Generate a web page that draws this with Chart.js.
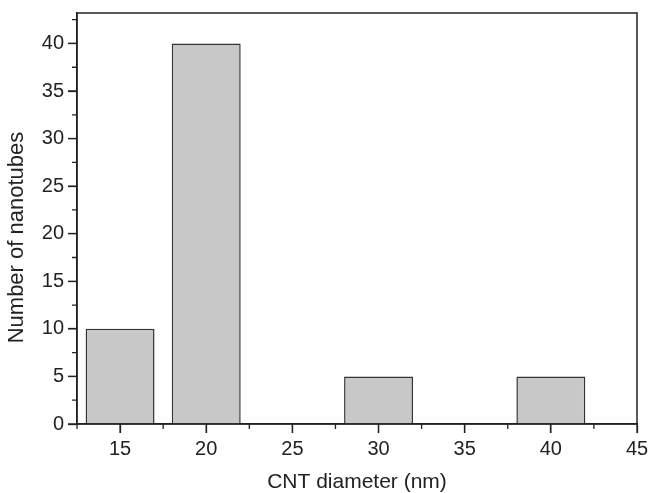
<!DOCTYPE html>
<html>
<head>
<meta charset="utf-8">
<script src="https://cdn.jsdelivr.net/npm/chart.js@4/dist/chart.umd.min.js"></script>
<style>
  html, body { margin: 0; padding: 0; background: #ffffff; }
  #wrap { width: 650px; height: 493px; }
</style>
</head>
<body>
<div id="wrap"><canvas id="c" width="650" height="493"></canvas></div>
<script>
const diameters = [15, 20, 30, 40];
const counts = [10, 40, 5, 5];
const xTickValues = [15, 20, 25, 30, 35, 40, 45];
const xMinorValues = [12.5, 17.5, 22.5, 27.5, 32.5, 37.5, 42.5];
const yTickValues = [0, 5, 10, 15, 20, 25, 30, 35, 40];
const yMinorValues = [2.5, 7.5, 12.5, 17.5, 22.5, 27.5, 32.5, 37.5, 42.5];
const xTitle = 'CNT diameter (nm)';
const yTitle = 'Number of nanotubes';

const INK = '#222222';
const FONT = 'Liberation Sans, Arial, Helvetica, sans-serif';

const framePlugin = {
  id: 'frameAndMinor',
  afterDraw(chart) {
    const ctx = chart.ctx;
    const a = chart.chartArea;
    const xs = chart.scales.x, ys = chart.scales.y;
    ctx.save();
    ctx.strokeStyle = INK;
    ctx.lineWidth = 1.5;
    ctx.strokeRect(a.left, a.top, a.right - a.left, a.bottom - a.top);
    ctx.lineWidth = 1.3;
    ctx.beginPath();
    xTickValues.forEach(v => {
      const px = xs.getPixelForValue(v);
      ctx.moveTo(px, a.bottom);
      ctx.lineTo(px, a.bottom + 9);
    });
    yTickValues.forEach(v => {
      const py = ys.getPixelForValue(v);
      ctx.moveTo(a.left, py);
      ctx.lineTo(a.left - 9, py);
    });
    xMinorValues.forEach(v => {
      const px = xs.getPixelForValue(v);
      ctx.moveTo(px, a.bottom);
      ctx.lineTo(px, a.bottom + 5);
    });
    yMinorValues.forEach(v => {
      const py = ys.getPixelForValue(v);
      ctx.moveTo(a.left, py);
      ctx.lineTo(a.left - 5, py);
    });
    ctx.stroke();
    // y-axis title (placed slightly below centre, as in the reference)
    ctx.fillStyle = INK;
    ctx.font = '22px ' + FONT;
    ctx.textAlign = 'center';
    ctx.textBaseline = 'middle';
    ctx.translate(17, ys.getPixelForValue(19.6));
    ctx.rotate(-Math.PI / 2);
    ctx.fillText(yTitle, 0, 0);
    ctx.restore();
  }
};

new Chart(document.getElementById('c'), {
  type: 'bar',
  data: {
    datasets: [{
      data: diameters.map((d, i) => ({ x: d, y: counts[i] })),
      backgroundColor: '#c8c8c9',
      borderColor: '#333333',
      borderWidth: 1.5,
      barPercentage: 0.8,
      categoryPercentage: 1.0
    }]
  },
  options: {
    responsive: false,
    devicePixelRatio: 1,
    animation: false,
    layout: { padding: { top: 13, right: 13, left: 0, bottom: 0 } },
    plugins: { legend: { display: false }, tooltip: { enabled: false } },
    scales: {
      x: {
        type: 'linear',
        min: 12.5,
        max: 45,
        offset: false,
        afterBuildTicks(scale) { scale.ticks = xTickValues.map(v => ({ value: v })); },
        afterFit(scale) { scale.height = 69; scale.paddingLeft = 0; scale.paddingRight = 0; },
        grid: { display: true, offset: false, drawOnChartArea: false, drawTicks: true, tickLength: 9, tickColor: INK, tickWidth: 1.3 },
        border: { display: true, color: INK, width: 1.5 },
        ticks: { color: INK, font: { family: FONT, size: 20 }, padding: 4, maxRotation: 0, autoSkip: false },
        title: { display: true, text: xTitle, color: INK, font: { family: FONT, size: 21 }, padding: { top: 4, bottom: -2 } }
      },
      y: {
        type: 'linear',
        min: 0,
        max: 43.2,
        afterBuildTicks(scale) { scale.ticks = yTickValues.map(v => ({ value: v })); },
        afterFit(scale) { scale.width = 77; scale.paddingTop = 0; scale.paddingBottom = 0; },
        grid: { display: true, offset: false, drawOnChartArea: false, drawTicks: true, tickLength: 9, tickColor: INK, tickWidth: 1.3 },
        border: { display: true, color: INK, width: 1.5 },
        ticks: { color: INK, font: { family: FONT, size: 20 }, padding: 4, autoSkip: false },
        title: { display: false }
      }
    }
  },
  plugins: [framePlugin]
});
</script>
</body>
</html>
